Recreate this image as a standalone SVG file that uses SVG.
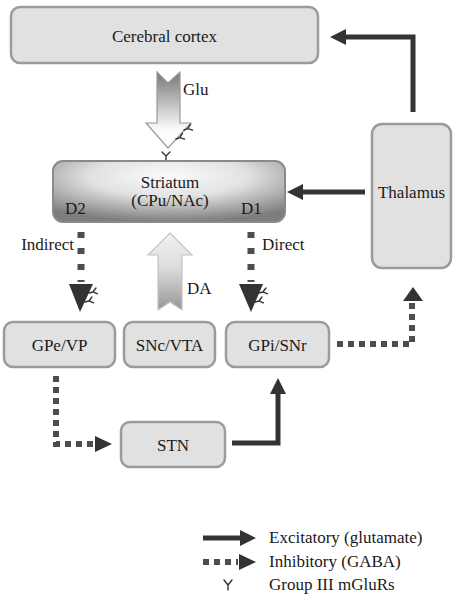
<svg xmlns="http://www.w3.org/2000/svg" width="454" height="600" viewBox="0 0 454 600">
<style>
.box{fill:#e1e1e1;stroke:#9b9b9b;stroke-width:2.5}
.t{font-family:"Liberation Serif","Times New Roman",serif;font-size:17px;fill:#1a1a1a}
.c{text-anchor:middle}
.solid{fill:none;stroke:#333;stroke-width:5}
.dot{fill:none;stroke:#4d4d4d;stroke-width:6;stroke-dasharray:6 5}
.dotw{fill:none;stroke:#4d4d4d;stroke-width:7;stroke-dasharray:6 10}
.head{fill:#333}
.fork{fill:none;stroke:#333;stroke-width:1.4;stroke-linecap:round}
</style>
<defs>
<marker id="ah" markerUnits="userSpaceOnUse" markerWidth="16" markerHeight="16" viewBox="0 0 16 16" refX="6" refY="8" orient="auto">
<path d="M0,0 L16,8 L0,16 z" fill="#333"/>
</marker>
<radialGradient id="strG" cx="50%" cy="25%" r="75%">
<stop offset="0" stop-color="#fbfbfb"/>
<stop offset="0.45" stop-color="#e2e2e2"/>
<stop offset="1" stop-color="#7d7d7d"/>
</radialGradient>
<linearGradient id="gluG" x1="0" y1="0" x2="0" y2="1">
<stop offset="0" stop-color="#777"/>
<stop offset="0.75" stop-color="#fafafa"/>
<stop offset="1" stop-color="#ffffff"/>
</linearGradient>
<linearGradient id="daG" x1="0" y1="0" x2="0" y2="1">
<stop offset="0" stop-color="#f2f2f2"/>
<stop offset="0.45" stop-color="#dcdcdc"/>
<stop offset="1" stop-color="#969696"/>
</linearGradient>
<path id="yfork" d="M0,0 V-4 M0,-4 L-3,-8 M0,-4 L3,-8"/>
</defs>

<g id="connectors">
<path class="solid" d="M413,112 V37 H340" marker-end="url(#ah)"/>
<path class="solid" d="M365,192 H297" marker-end="url(#ah)"/>
<path class="solid" d="M232,443 H278 V388" marker-end="url(#ah)"/>

<polygon id="glu-arrow" points="157,72 168,83 180,72 180,123 191,123 168,148 146,123 157,123" fill="url(#gluG)" stroke="#9a9a9a" stroke-width="1.2"/>
<use href="#yfork" class="fork" transform="translate(184,130) rotate(70)"/>
<use href="#yfork" class="fork" transform="translate(176,139) rotate(70)"/>
<text class="t" x="183" y="95">Glu</text>
<path class="fork" d="M166,161 V156 M166,156 L162,152 M166,156 L170,152" stroke-width="1.8"/>

<polygon id="da-arrow" points="170,233 192,255 182,255 182,310 170,302 158,310 158,255 148,255" fill="url(#daG)" stroke="#c4c4c4" stroke-width="1.2"/>
<text class="t" x="187" y="294">DA</text>

<path class="dotw" d="M81,232 V282"/>
<polygon class="head" points="69,284 93,284 80,312"/>
<use href="#yfork" class="fork" transform="translate(89,293) rotate(75)"/>
<use href="#yfork" class="fork" transform="translate(85,302) rotate(75)"/>
<text class="t" x="74" y="250" text-anchor="end">Indirect</text>

<path class="dotw" d="M251,232 V282"/>
<polygon class="head" points="239,284 263,284 251,312"/>
<use href="#yfork" class="fork" transform="translate(259,293) rotate(75)"/>
<use href="#yfork" class="fork" transform="translate(255,302) rotate(75)"/>
<text class="t" x="262" y="250">Direct</text>

<path class="dot" d="M337,344 H412 V302"/>
<polygon class="head" points="403,301 423,301 413,287"/>

<path class="dot" d="M56,376 V444 H94"/>
<polygon class="head" points="95,436 112,444 95,452"/>
</g>

<g id="cortex">
<rect class="box" x="11" y="7" width="307" height="56" rx="9"/>
<text class="t c" x="164.5" y="42">Cerebral cortex</text>
</g>
<g id="thalamus">
<rect class="box" x="372" y="124" width="79" height="144" rx="10"/>
<text class="t c" x="411.5" y="198">Thalamus</text>
</g>
<g id="striatum">
<rect x="53" y="161" width="232" height="61" rx="10" fill="url(#strG)" stroke="#8a8a8a" stroke-width="2"/>
<text class="t c" x="170" y="188">Striatum</text>
<text class="t c" x="170" y="206">(CPu/NAc)</text>
<text class="t" x="65" y="214">D2</text>
<text class="t" x="241" y="214">D1</text>
</g>
<g id="gpe">
<rect class="box" x="4" y="322" width="111" height="45" rx="9"/>
<text class="t c" x="59.5" y="351">GPe/VP</text>
</g>
<g id="snc">
<rect class="box" x="124" y="322" width="91" height="45" rx="9"/>
<text class="t c" x="169.5" y="351">SNc/VTA</text>
</g>
<g id="gpi">
<rect class="box" x="226" y="322" width="103" height="45" rx="9"/>
<text class="t c" x="277.5" y="351">GPi/SNr</text>
</g>
<g id="stn">
<rect class="box" x="121" y="422" width="104" height="45" rx="9"/>
<text class="t c" x="173" y="451">STN</text>
</g>

<g id="legend">
<path class="solid" d="M203,538 H246" marker-end="url(#ah)"/>
<text class="t" x="269" y="543">Excitatory (glutamate)</text>
<path class="dot" d="M203,562 H238"/>
<polygon class="head" points="239,554 256,562 239,570"/>
<text class="t" x="269" y="567">Inhibitory (GABA)</text>
<path class="fork" d="M228,590 V585 M228,585 L224,580 M228,585 L232,580" stroke-width="2"/>
<text class="t" x="269" y="590">Group III mGluRs</text>
</g>
</svg>
